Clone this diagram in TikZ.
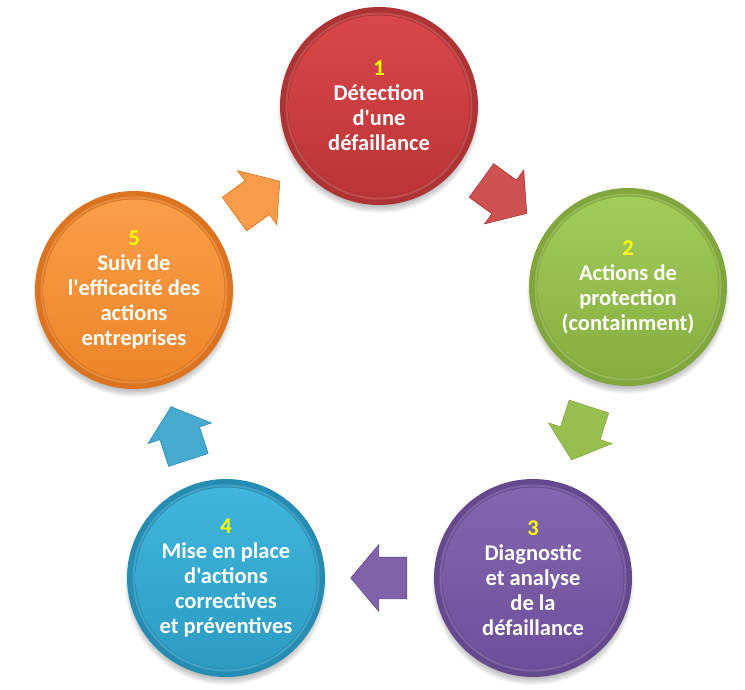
\documentclass[tikz,border=0pt]{standalone}
\usepackage{fontspec}
\setmainfont{Carlito}[Ligatures=TeXOff]
\usetikzlibrary{shapes.arrows,calc}
\definecolor{rimR}{HTML}{AE3335}\definecolor{topR}{HTML}{D8474A}\definecolor{botR}{HTML}{BB3436}\definecolor{arrR}{HTML}{CD5150}
\definecolor{rimG}{HTML}{82A63E}\definecolor{topG}{HTML}{A2CC5A}\definecolor{botG}{HTML}{86AE40}\definecolor{arrG}{HTML}{96BF4F}
\definecolor{rimP}{HTML}{65498F}\definecolor{topP}{HTML}{8466B0}\definecolor{botP}{HTML}{6D4E9A}\definecolor{arrP}{HTML}{8062A8}
\definecolor{rimB}{HTML}{278CB1}\definecolor{topB}{HTML}{40B6DC}\definecolor{botB}{HTML}{2C9BC2}\definecolor{arrB}{HTML}{45AACD}
\definecolor{rimO}{HTML}{DC731E}\definecolor{topO}{HTML}{FA9E48}\definecolor{botO}{HTML}{EE8428}\definecolor{arrO}{HTML}{F89C4A}
\definecolor{numY}{HTML}{FFFF00}
\begin{document}
\begin{tikzpicture}[x=1pt,y=-1pt,
  disk/.style n args={3}{circle, minimum size=198pt, inner sep=0pt, fill=#1,
    text=white, align=center, font=\bfseries\fontsize{22.5}{25}\selectfont,
    path picture={
      \coordinate (pc) at (path picture bounding box.center);
      \draw[#2!70!white, line width=2pt, opacity=0.35] (pc) circle[radius=92.5pt];
      \shade[top color=#2, bottom color=#3] (pc) circle[radius=90.5pt];
    }},
  blockarrow/.style n args={2}{single arrow, minimum height=56pt, minimum width=66pt,
    single arrow head extend=12.5pt, single arrow tip angle=100,
    inner xsep=0pt, inner ysep=20.5pt,
    fill=#1, draw=#2, line width=0.6pt},
  softshadow/.style={fill=black, opacity=0.045}
]
\useasboundingbox (0,0) rectangle (745,690);
\coordinate (p1) at (379,106);
\coordinate (p2) at (628,287);
\coordinate (p3) at (533,578);
\coordinate (p4) at (226,578);
\coordinate (p5) at (134,290);
% soft shadows
\foreach \p in {p1,p2,p3,p4,p5}{
  \foreach \k in {0,...,6}{
    \fill[softshadow] ($(\p)+(0,6)$) circle[radius={101pt-\k*1.2pt}];
  }
}
\node[disk={rimR}{topR}{botR}] (c1) at (p1) {{\color{numY}1}\\Détection\\d'une\\défaillance};
\node[disk={rimG}{topG}{botG}] (c2) at (p2) {{\color{numY}2}\\Actions de\\protection\\(containment)};
\node[disk={rimP}{topP}{botP}] (c3) at (p3) {{\color{numY}3}\\Diagnostic\\et analyse\\de la\\défaillance};
\node[disk={rimB}{topB}{botB}] (c4) at (p4) {{\color{numY}4}\\Mise en place\\d'actions\\correctives\\et préventives};
\node[disk={rimO}{topO}{botO}] (c5) at (p5) {{\color{numY}5}\\Suivi de\\l'efficacité des\\actions\\entreprises};
% arrows
\node[blockarrow={arrR}{rimR}, rotate=-36] (a1) at ($(c1)!0.5!(c2)!8pt!(c1)$) {};
\node[blockarrow={arrG}{rimG}, rotate=-108] (a2) at ($(c2)!0.5!(c3)!8pt!(c2)$) {};
\node[blockarrow={arrP}{rimP}, rotate=180] (a3) at ($(c3)!0.5!(c4)!8pt!(c3)$) {};
\node[blockarrow={arrB}{rimB}, rotate=108] (a4) at ($(c4)!0.5!(c5)!8pt!(c4)$) {};
\node[blockarrow={arrO}{rimO}, rotate=36] (a5) at ($(c5)!0.5!(c1)!8pt!(c5)$) {};
\end{tikzpicture}
\end{document}
